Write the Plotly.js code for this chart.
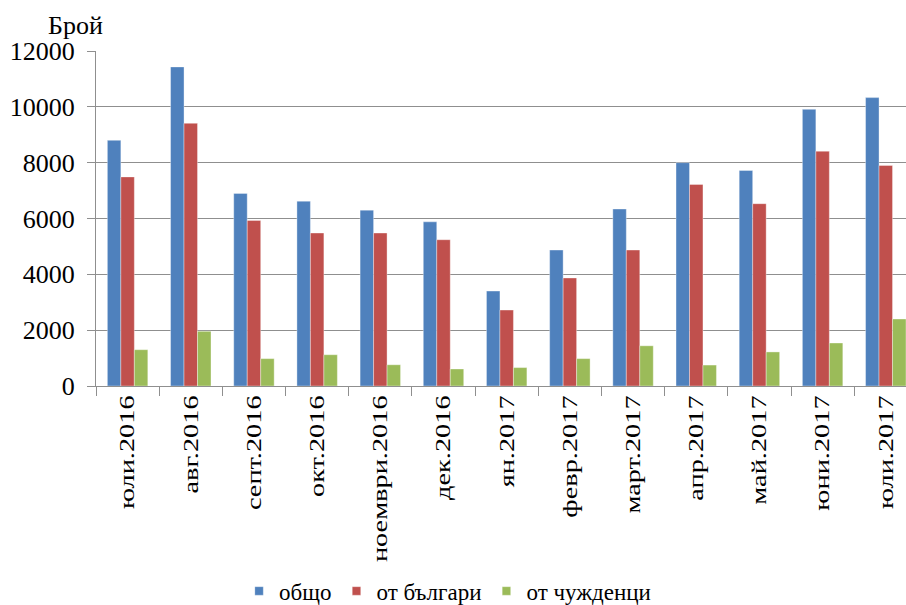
<!DOCTYPE html>
<html>
<head>
<meta charset="utf-8">
<script src="https://cdn.plot.ly/plotly-3.0.1.min.js"></script>
<style>html,body{margin:0;padding:0;background:#fff;}#chart{width:906px;height:605px;}</style>
</head>
<body>
<div id="chart"></div>
<script>
const categories = ["юли.2016","авг.2016","септ.2016","окт.2016","ноември.2016","дек.2016","ян.2017","февр.2017","март.2017","апр.2017","май.2017","юни.2017","юли.2017"];
const total = [8800, 11430, 6900, 6620, 6300, 5880, 3400, 4870, 6340, 8000, 7720, 9910, 10330];
const bulgarians = [7490, 9410, 5930, 5480, 5480, 5240, 2720, 3870, 4870, 7220, 6530, 8410, 7900];
const foreigners = [1300, 1960, 980, 1120, 760, 610, 660, 980, 1440, 750, 1220, 1540, 2400];
const seriesNames = ["общо", "от българи", "от чужденци"];
const yTicks = [0, 2000, 4000, 6000, 8000, 10000, 12000];

const FAM = "Liberation Serif";
const colors = ["#4F81BD", "#C0504D", "#9BBB59"];
const values = [total, bulgarians, foreigners];

const traces = values.map((v, i) => ({
  type: "bar",
  name: seriesNames[i],
  x: categories,
  y: v,
  marker: {color: colors[i], line: {color: "rgba(255,255,255,0.6)", width: 0.6}}
}));

const layout = {
  width: 906,
  height: 605,
  margin: {l: 96, r: 0, t: 51, b: 218.5, autoexpand: false},
  paper_bgcolor: "#fff",
  plot_bgcolor: "#fff",
  barmode: "group",
  bargap: 0.36,
  bargroupgap: 0,
  font: {family: FAM, color: "#000", size: 22},
  xaxis: {
    type: "category",
    range: [-0.5, 12.32],
    tickson: "boundaries",
    ticks: "outside",
    ticklen: 9,
    tickcolor: "#8f8f8f",
    tickwidth: 1,
    showline: true,
    linecolor: "#8f8f8f",
    linewidth: 1,
    showgrid: false,
    tickangle: -90,
    tickfont: {family: FAM, size: 21, color: "#000"},
    automargin: false,
    fixedrange: true
  },
  yaxis: {
    range: [0, 12000],
    tickvals: yTicks,
    ticktext: yTicks.map(String),
    ticks: "outside",
    ticklen: 8,
    tickcolor: "#8f8f8f",
    ticklabelstandoff: 7,
    showline: true,
    linecolor: "#8f8f8f",
    linewidth: 1,
    showgrid: true,
    gridcolor: "#8f8f8f",
    gridwidth: 1,
    zeroline: false,
    tickfont: {family: FAM, size: 26, color: "#000"},
    automargin: false,
    fixedrange: true
  },
  showlegend: true,
  legend: {
    orientation: "h",
    xref: "container",
    yref: "container",
    x: 0.494,
    xanchor: "center",
    y: (605 - 591) / 605,
    yanchor: "middle",
    font: {family: FAM, size: 23, color: "#000"},
    itemwidth: 30,
    traceorder: "normal"
  },
  annotations: [{
    text: "Брой",
    xref: "paper", yref: "paper",
    x: (46 - 96) / 810, y: (386.5 - 25) / 335.5,
    xanchor: "left", yanchor: "middle",
    showarrow: false,
    font: {family: FAM, size: 26, color: "#000"}
  }]
};

Plotly.newPlot("chart", traces, layout, {displayModeBar: false, staticPlot: true}).then(function (gd) {
  // lengthen the rotated month labels along their baseline, as in the reference
  gd.querySelectorAll(".xtick text").forEach(function (t) {
    const x = parseFloat(t.getAttribute("x")) || 0;
    const y = parseFloat(t.getAttribute("y")) || 0;
    const tr = t.getAttribute("transform") || "";
    t.setAttribute("transform", tr + " translate(" + x + "," + y + ") scale(1.35,1) translate(" + (-x) + "," + (-y) + ")");
  });
  // smaller legend squares
  gd.querySelectorAll(".legend .legendpoints path").forEach(function (p) {
    const tr = p.getAttribute("transform") || "";
    p.setAttribute("transform", tr + " scale(0.7)");
  });
});
</script>
</body>
</html>
